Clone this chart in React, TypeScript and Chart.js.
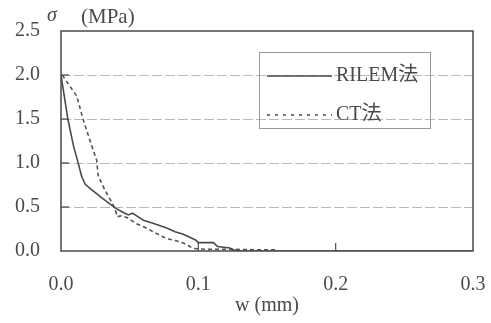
import React, { useEffect, useRef } from "react";
import { Chart, registerables } from "chart.js";

Chart.register(...registerables);

const RILEM_W = [0, 0.002, 0.005, 0.009, 0.012, 0.015, 0.0175, 0.022, 0.03, 0.0394, 0.045, 0.049, 0.052, 0.056, 0.06, 0.068, 0.077, 0.083, 0.089, 0.098, 0.1, 0.111, 0.114, 0.123, 0.126, 0.13, 0.3];
const RILEM_S = [2.0, 1.8, 1.5, 1.2, 1.03, 0.85, 0.76, 0.7, 0.6, 0.49, 0.44, 0.41, 0.43, 0.39, 0.35, 0.31, 0.26, 0.22, 0.19, 0.125, 0.095, 0.095, 0.05, 0.035, 0.01, 0.0, 0.0];
const CT_W = [0.001, 0.003, 0.0115, 0.016, 0.021, 0.026, 0.027, 0.032, 0.036, 0.039, 0.041, 0.044, 0.048, 0.055, 0.061, 0.067, 0.072, 0.077, 0.083, 0.089, 0.093, 0.096, 0.105, 0.12, 0.14, 0.158];
const CT_S = [2.0, 1.95, 1.76, 1.5, 1.26, 1.03, 0.86, 0.69, 0.58, 0.49, 0.39, 0.4, 0.38, 0.31, 0.27, 0.22, 0.18, 0.14, 0.12, 0.09, 0.06, 0.03, 0.02, 0.02, 0.015, 0.015];
const X_TICKS = [0, 0.1, 0.2, 0.3];
const Y_TICKS = [0, 0.5, 1.0, 1.5, 2.0, 2.5];
const SERIES_NAMES = ["RILEM法", "CT法"];
const X_TITLE = "w (mm)";
const Y_TITLE_SYM = "σ";
const Y_TITLE_UNIT = "(MPa)";

const FONT = "'Liberation Serif', 'Noto Sans CJK JP', serif";
const INK = "#4a4a4a";

const decor = {
  id: "decor",
  afterDraw(chart: any) {
    const { ctx, chartArea: a, scales } = chart;
    const x = scales.x, y = scales.y;
    ctx.save();
    ctx.strokeStyle = INK;
    ctx.lineWidth = 1.5;
    ctx.setLineDash([]);
    ctx.strokeRect(a.left, a.top, a.right - a.left, a.bottom - a.top);
    ctx.lineWidth = 1.2;
    for (const v of Y_TICKS) {
      if (v <= 0 || v >= 2.5) continue;
      const py = y.getPixelForValue(v);
      ctx.beginPath(); ctx.moveTo(a.left, py); ctx.lineTo(a.left + 8, py); ctx.stroke();
    }
    for (const v of X_TICKS) {
      if (v <= 0 || v >= 0.3) continue;
      const px = x.getPixelForValue(v);
      ctx.beginPath(); ctx.moveTo(px, a.bottom); ctx.lineTo(px, a.bottom - 8); ctx.stroke();
    }
    // y title
    ctx.fillStyle = INK;
    ctx.textBaseline = "middle";
    ctx.textAlign = "left";
    ctx.font = `italic 20px ${FONT}`;
    ctx.fillText(Y_TITLE_SYM, 47, 16);
    ctx.font = `21px ${FONT}`;
    ctx.fillText(Y_TITLE_UNIT, 81, 17);
    // legend
    const lx = 259, ly = 52, lw = 171, lh = 76;
    ctx.strokeStyle = "#999";
    ctx.lineWidth = 1;
    ctx.strokeRect(lx + 0.5, ly + 0.5, lw, lh);
    ctx.strokeStyle = INK;
    ctx.lineWidth = 1.6;
    ctx.beginPath(); ctx.moveTo(267, 76); ctx.lineTo(332, 76); ctx.stroke();
    ctx.setLineDash([3, 5]);
    ctx.beginPath(); ctx.moveTo(267, 115); ctx.lineTo(332, 115); ctx.stroke();
    ctx.setLineDash([]);
    ctx.font = `20px ${FONT}`;
    ctx.fillText(SERIES_NAMES[0], 336, 76);
    ctx.fillText(SERIES_NAMES[1], 336, 115);
    ctx.restore();
  },
};

export default function App() {
  const ref = useRef<HTMLCanvasElement>(null);
  useEffect(() => {
    document.body.style.margin = "0";
    const chart = new Chart(ref.current!, {
      type: "line",
      data: {
        datasets: [
          {
            label: SERIES_NAMES[0],
            data: RILEM_W.map((w, i) => ({ x: w, y: RILEM_S[i] })),
            borderColor: INK,
            borderWidth: 1.6,
            pointRadius: 0,
            tension: 0,
          },
          {
            label: SERIES_NAMES[1],
            data: CT_W.map((w, i) => ({ x: w, y: CT_S[i] })),
            borderColor: "#555",
            borderWidth: 1.6,
            borderDash: [4, 3],
            pointRadius: 0,
            tension: 0,
          },
        ],
      },
      options: {
        responsive: false,
        animation: false,
        layout: { padding: { top: 31, right: 18, left: 0, bottom: 0 } },
        plugins: { legend: { display: false }, tooltip: { enabled: false } },
        scales: {
          x: {
            type: "linear",
            min: 0,
            max: 0.3,
            afterBuildTicks: (s: any) => { s.ticks = X_TICKS.map((v) => ({ value: v })); },
            afterFit: (s: any) => { s.height = 72; s.paddingLeft = 0; s.paddingRight = 0; },
            grid: { display: false, drawTicks: false },
            border: { display: false },
            ticks: {
              padding: 22,
              color: INK,
              font: { family: FONT, size: 20 },
              maxRotation: 0,
              callback: (v: any) => Number(v).toFixed(1),
            },
            title: {
              display: true,
              text: X_TITLE,
              color: INK,
              font: { family: FONT, size: 20 },
              padding: { top: 0, bottom: 5 },
            },
          },
          y: {
            type: "linear",
            min: 0,
            max: 2.5,
            afterBuildTicks: (s: any) => { s.ticks = Y_TICKS.map((v) => ({ value: v })); },
            afterFit: (s: any) => { s.width = 61; s.paddingTop = 0; s.paddingBottom = 0; },
            grid: {
              drawTicks: false,
              color: (c: any) => (c.tick && c.tick.value > 0 && c.tick.value < 2.5 ? "#b8b8b8" : "rgba(0,0,0,0)"),
              lineWidth: 1,
            },
            border: { display: false, dash: [10, 3] },
            ticks: {
              padding: 21,
              color: INK,
              font: { family: FONT, size: 20 },
              callback: (v: any) => Number(v).toFixed(1),
            },
          },
        },
      },
      plugins: [decor],
    });
    return () => chart.destroy();
  }, []);
  return (
    <div style={{ width: 491, height: 323, background: "#fff" }}>
      <canvas ref={ref} width={491} height={323} />
    </div>
  );
}
